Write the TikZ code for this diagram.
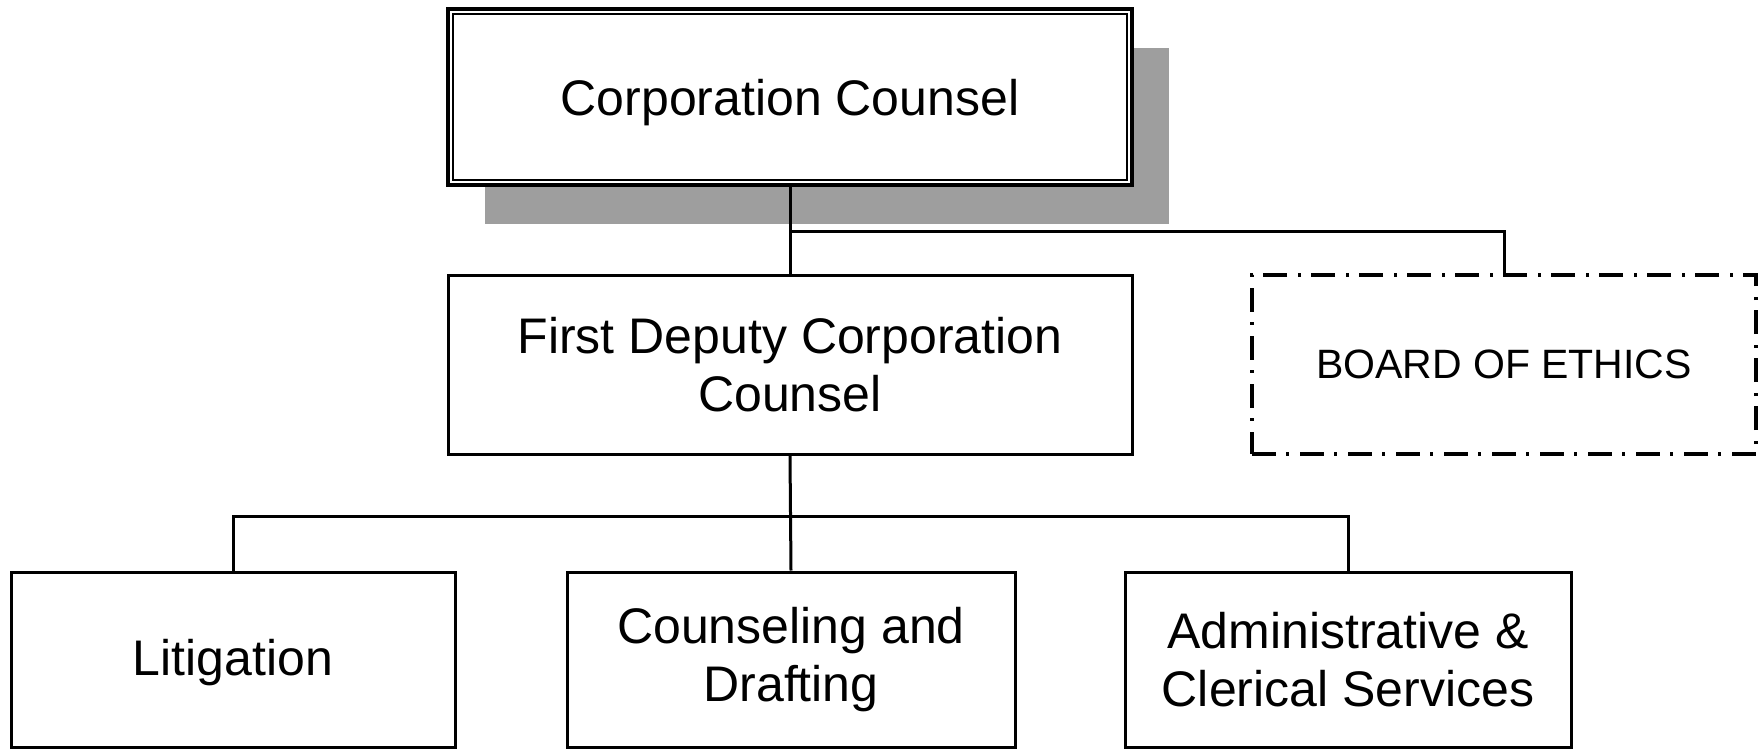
\documentclass[tikz,border=0pt]{standalone}
\usepackage{fontspec}
\setmainfont{Liberation Sans}
\usetikzlibrary{positioning}
\newcommand{\bigfont}{\fontsize{25}{29}\selectfont}
\newcommand{\smallfont}{\fontsize{20.5}{24}\selectfont}
\tikzset{
  box/.style={draw, line width=1.5pt, fill=white, align=center, font=\bigfont, inner sep=0pt},
  onebox/.style={box, text height=24pt},
  ethicsbox/.style={box, font=\smallfont, line width=1.6pt,
    dash pattern=on 12pt off 5pt on 1.5pt off 5.5pt},
  link/.style={line width=1.5pt},
}
\begin{document}
\begin{tikzpicture}[x=0.5pt,y=-0.5pt]
  \useasboundingbox (0,0) rectangle (1758,749);
  % shadow behind the top box
  \fill[black!38] (485,48) rectangle (1169,224);
  \node[onebox, line width=2pt, minimum width=342pt, minimum height=88pt] (cc) at (790,97) {Corporation Counsel};
  \draw[line width=1pt] ([shift={(3.5pt,-3.5pt)}]cc.north west) rectangle ([shift={(-3.5pt,3.5pt)}]cc.south east);
  \node[box, minimum width=342pt, minimum height=89.5pt] (fdcc) at (790,364.5) {First Deputy Corporation\\Counsel};
  \node[ethicsbox, minimum width=252pt, minimum height=89.5pt] (ethics) at (1504,364.5) {BOARD OF ETHICS};
  \node[onebox, text height=21pt, minimum width=222pt, minimum height=87.5pt] (lit) at (233,659.5) {Litigation};
  \node[box, minimum width=224pt, minimum height=87.5pt] (cnsl) at (791,659.5) {Counseling and\\Drafting};
  \node[box, minimum width=223pt, minimum height=87.5pt] (admin) at (1348,659.5) {Administrative \&\\Clerical Services};
  \coordinate (bus1) at (790,232);
  \coordinate (bus2) at (790,516);
  \draw[link] (cc.south) -- (fdcc.north);
  \draw[link] (bus1) -| (ethics.north);
  \draw[link] (fdcc.south) -- (cnsl.north);
  \draw[link] (lit.north) |- (bus2) -| (admin.north);
\end{tikzpicture}
\end{document}
